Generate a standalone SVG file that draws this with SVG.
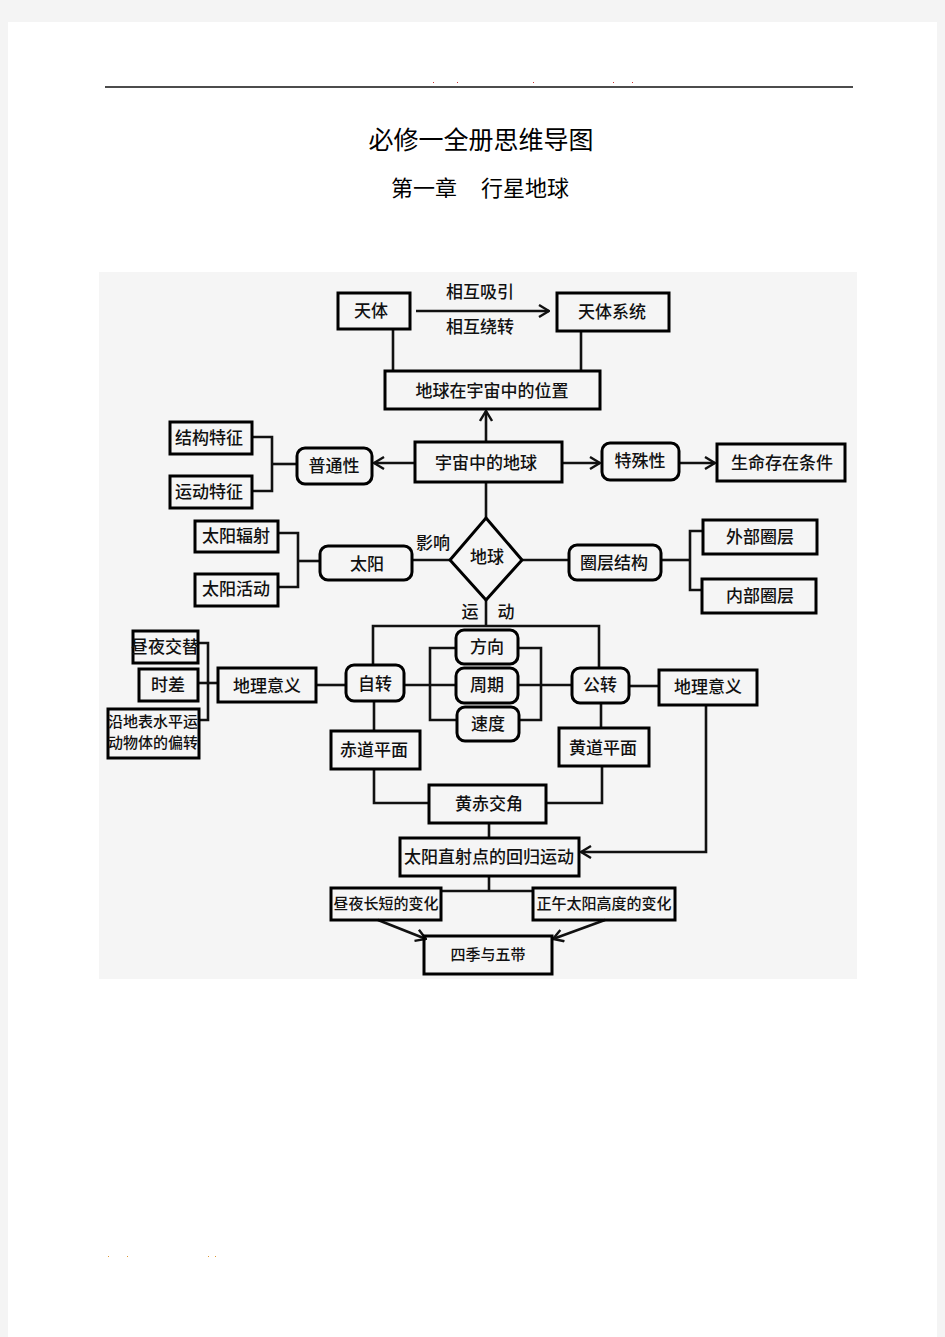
<svg xmlns="http://www.w3.org/2000/svg" width="945" height="1337" viewBox="0 0 945 1337">
<style>
.box{fill:none;stroke:#000;stroke-width:3}
.ln{fill:none;stroke:#111;stroke-width:2.6}
.t{font-family:"Noto Sans CJK SC","Noto Sans CJK JP",sans-serif;font-size:17px;font-weight:500;text-anchor:middle;dominant-baseline:central;fill:#111;transform:translateY(-1.5px)}
.s{font-size:15px}
.ttl{font-family:"Noto Sans CJK SC",sans-serif;font-weight:400;fill:#000;text-anchor:middle}
</style>
<defs>
<marker id="arr" viewBox="0 0 12 14" refX="11" refY="7" markerWidth="12" markerHeight="14" orient="auto" markerUnits="userSpaceOnUse">
<path d="M1,1 L11,7 L1,13" fill="none" stroke="#111" stroke-width="2.4"/>
</marker>
</defs>
<rect x="0" y="0" width="945" height="1337" fill="#f4f4f4"/>
<rect x="8" y="22" width="929" height="1315" fill="#fff"/>
<line x1="105" y1="87" x2="853" y2="87" stroke="#111" stroke-width="1.3"/>
<g fill="#c33">
<rect x="433" y="82" width="1" height="1"/><rect x="457" y="82" width="1" height="1"/><rect x="533" y="82" width="1" height="1"/><rect x="613" y="82" width="1" height="1"/><rect x="632" y="82" width="1" height="1"/>
</g>
<g fill="#d93">
<rect x="108" y="1256" width="1" height="1"/><rect x="127" y="1256" width="1" height="1"/><rect x="208" y="1256" width="1" height="1"/><rect x="215" y="1256" width="1" height="1"/>
</g>
<text class="ttl" x="481" y="149" font-size="25">必修一全册思维导图</text>
<text class="ttl" x="424" y="196" font-size="22">第一章</text>
<text class="ttl" x="525" y="196" font-size="22">行星地球</text>
<rect x="99" y="272" width="758" height="707" fill="#f5f5f5"/>

<g id="connectors">
<line class="ln" x1="416" y1="311" x2="549" y2="311" marker-end="url(#arr)"/>
<text class="t" x="480" y="292">相互吸引</text>
<text class="t" x="480" y="327">相互绕转</text>
<line class="ln" x1="393" y1="329" x2="393" y2="371"/>
<line class="ln" x1="581" y1="331" x2="581" y2="371"/>
<line class="ln" x1="486" y1="442" x2="486" y2="411" marker-end="url(#arr)"/>
<line class="ln" x1="415" y1="463" x2="374" y2="463" marker-end="url(#arr)"/>
<polyline class="ln" points="252,437 272,437 272,491 252,491"/>
<line class="ln" x1="272" y1="464" x2="297" y2="464"/>
<line class="ln" x1="562" y1="463" x2="600" y2="463" marker-end="url(#arr)"/>
<line class="ln" x1="679" y1="463" x2="715" y2="463" marker-end="url(#arr)"/>
<line class="ln" x1="486" y1="482" x2="486" y2="518"/>
<line class="ln" x1="412" y1="560" x2="450" y2="560"/>
<text class="t" x="433" y="543">影响</text>
<polyline class="ln" points="278,533 298,533 298,587 278,587"/>
<line class="ln" x1="298" y1="561" x2="320" y2="561"/>
<line class="ln" x1="522" y1="560" x2="569" y2="560"/>
<line class="ln" x1="661" y1="560" x2="690" y2="560"/>
<polyline class="ln" points="703,531 690,531 690,590 702,590"/>
<line class="ln" x1="486" y1="600" x2="486" y2="626"/>
<text class="t" x="470" y="612">运</text>
<text class="t" x="506" y="612">动</text>
<polyline class="ln" points="373,666 373,626 599,626 599,668"/>
<polyline class="ln" points="456,648 430,648 430,720 457,720"/>
<line class="ln" x1="404" y1="685" x2="456" y2="685"/>
<polyline class="ln" points="518,648 541,648 541,720 519,720"/>
<line class="ln" x1="518" y1="685" x2="572" y2="685"/>
<line class="ln" x1="316" y1="685" x2="346" y2="685"/>
<polyline class="ln" points="198,643 208,643 208,720 199,720"/>
<line class="ln" x1="198" y1="683" x2="218" y2="683"/>
<line class="ln" x1="629" y1="686" x2="659" y2="686"/>
<polyline class="ln" points="706,705 706,852 581,852" marker-end="url(#arr)"/>
<line class="ln" x1="374" y1="701" x2="374" y2="731"/>
<line class="ln" x1="601" y1="703" x2="601" y2="728"/>
<polyline class="ln" points="374,769 374,803 429,803"/>
<polyline class="ln" points="602,766 602,803 546,803"/>
<line class="ln" x1="489" y1="823" x2="489" y2="838"/>
<line class="ln" x1="489" y1="876" x2="489" y2="891"/>
<line class="ln" x1="441" y1="891" x2="533" y2="891"/>
<line class="ln" x1="378" y1="920" x2="426" y2="939" marker-end="url(#arr)"/>
<line class="ln" x1="605" y1="920" x2="553" y2="939" marker-end="url(#arr)"/>
</g>

<g id="n-tianti"><rect class="box" x="338" y="293" width="72" height="36"/><text class="t" x="371" y="311">天体</text></g>
<g id="n-tiantixitong"><rect class="box" x="557" y="293" width="112" height="38"/><text class="t" x="612" y="312">天体系统</text></g>
<g id="n-weizhi"><rect class="box" x="385" y="371" width="215" height="38"/><text class="t" x="492" y="391">地球在宇宙中的位置</text></g>
<g id="n-yuzhou"><rect class="box" x="415" y="442" width="147" height="40"/><text class="t" x="486" y="463">宇宙中的地球</text></g>
<g id="n-putong"><rect class="box" x="297" y="448" width="75" height="36" rx="8"/><text class="t" x="334" y="466">普通性</text></g>
<g id="n-jiegou"><rect class="box" x="170" y="422" width="82" height="32"/><text class="t" x="209" y="438">结构特征</text></g>
<g id="n-yundong"><rect class="box" x="170" y="476" width="82" height="32"/><text class="t" x="209" y="492">运动特征</text></g>
<g id="n-teshu"><rect class="box" x="602" y="443" width="77" height="37" rx="8"/><text class="t" x="640" y="461">特殊性</text></g>
<g id="n-shengming"><rect class="box" x="717" y="444" width="128" height="37"/><text class="t" x="782" y="463">生命存在条件</text></g>
<g id="n-diqiu"><polygon class="box" points="486,518 522,560 486,600 450,560"/><text class="t" x="487" y="557">地球</text></g>
<g id="n-taiyang"><rect class="box" x="320" y="546" width="92" height="34" rx="8"/><text class="t" x="367" y="564">太阳</text></g>
<g id="n-fushe"><rect class="box" x="195" y="521" width="83" height="31"/><text class="t" x="236" y="536">太阳辐射</text></g>
<g id="n-huodong"><rect class="box" x="195" y="574" width="83" height="32"/><text class="t" x="236" y="589">太阳活动</text></g>
<g id="n-quanceng"><rect class="box" x="569" y="545" width="92" height="35" rx="8"/><text class="t" x="614" y="563">圈层结构</text></g>
<g id="n-waibu"><rect class="box" x="703" y="520" width="114" height="34"/><text class="t" x="760" y="537">外部圈层</text></g>
<g id="n-neibu"><rect class="box" x="702" y="579" width="114" height="34"/><text class="t" x="760" y="596">内部圈层</text></g>
<g id="n-fangxiang"><rect class="box" x="456" y="630" width="62" height="34" rx="8"/><text class="t" x="487" y="647">方向</text></g>
<g id="n-zhouqi"><rect class="box" x="456" y="668" width="62" height="35" rx="8"/><text class="t" x="487" y="685">周期</text></g>
<g id="n-sudu"><rect class="box" x="457" y="707" width="62" height="34" rx="8"/><text class="t" x="488" y="724">速度</text></g>
<g id="n-zizhuan"><rect class="box" x="346" y="665" width="58" height="36" rx="8"/><text class="t" x="375" y="684">自转</text></g>
<g id="n-gongzhuan"><rect class="box" x="572" y="668" width="57" height="35" rx="8"/><text class="t" x="600" y="685">公转</text></g>
<g id="n-yiyi-l"><rect class="box" x="218" y="668" width="98" height="34"/><text class="t" x="267" y="686">地理意义</text></g>
<g id="n-yiyi-r"><rect class="box" x="659" y="670" width="98" height="35"/><text class="t" x="708" y="687">地理意义</text></g>
<g id="n-jiaoti"><rect class="box" x="133" y="631" width="65" height="32"/><text class="t" x="165" y="647">昼夜交替</text></g>
<g id="n-shicha"><rect class="box" x="139" y="669" width="59" height="32"/><text class="t" x="168" y="685">时差</text></g>
<g id="n-pianzhuan"><rect class="box" x="108" y="709" width="91" height="49"/><text class="t s" x="153" y="722">沿地表水平运</text><text class="t s" x="153" y="743">动物体的偏转</text></g>
<g id="n-chidao"><rect class="box" x="331" y="731" width="89" height="38"/><text class="t" x="374" y="750">赤道平面</text></g>
<g id="n-huangdao"><rect class="box" x="559" y="728" width="90" height="38"/><text class="t" x="603" y="748">黄道平面</text></g>
<g id="n-jiaojiao"><rect class="box" x="429" y="785" width="117" height="38"/><text class="t" x="489" y="804">黄赤交角</text></g>
<g id="n-huigui"><rect class="box" x="400" y="838" width="179" height="38"/><text class="t" x="489" y="857">太阳直射点的回归运动</text></g>
<g id="n-zhouye"><rect class="box" x="331" y="888" width="110" height="32"/><text class="t s" x="386" y="904">昼夜长短的变化</text></g>
<g id="n-zhengwu"><rect class="box" x="533" y="888" width="142" height="32"/><text class="t s" x="604" y="904">正午太阳高度的变化</text></g>
<g id="n-siji"><rect class="box" x="424" y="936" width="128" height="38"/><text class="t s" x="488" y="955">四季与五带</text></g>
</svg>
